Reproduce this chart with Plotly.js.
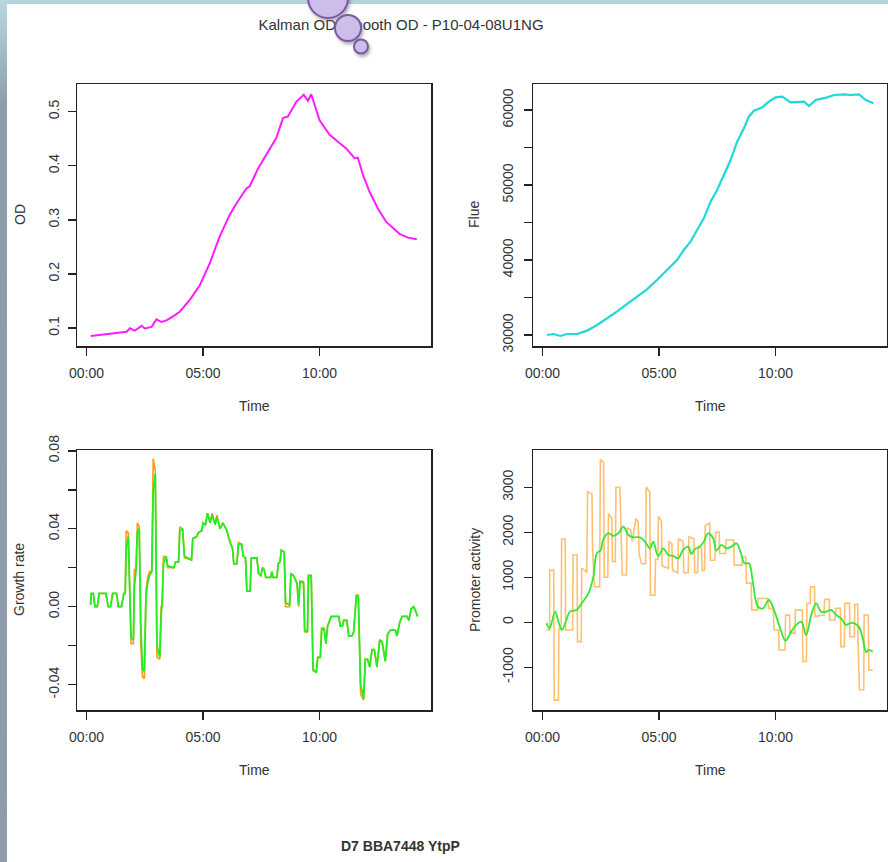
<!DOCTYPE html>
<html>
<head>
<meta charset="utf-8">
<script src="https://cdn.plot.ly/plotly-3.0.1.min.js"></script>
<style>
  html, body { margin: 0; padding: 0; background: #ffffff; }
  #wrap { position: relative; width: 888px; height: 862px; overflow: hidden; }
  #chart { position: absolute; left: 0; top: 0; width: 888px; height: 862px; }
  #deco { position: absolute; left: 0; top: 0; width: 888px; height: 862px; pointer-events: none; }
</style>
</head>
<body>
<div id="wrap">
  <div id="chart"></div>
  <svg id="deco" width="888" height="862" xmlns="http://www.w3.org/2000/svg">
    <defs>
      <linearGradient id="leftStrip" x1="0" y1="0" x2="0" y2="1">
        <stop offset="0" stop-color="#b8d7e0"/>
        <stop offset="0.04" stop-color="#a9c6d1"/>
        <stop offset="0.12" stop-color="#8c9eac"/>
        <stop offset="1" stop-color="#8e9aab"/>
      </linearGradient>
      <filter id="shadow" x="-50%" y="-50%" width="200%" height="200%">
        <feDropShadow dx="1.5" dy="2.5" stdDeviation="1.5" flood-color="#555" flood-opacity="0.45"/>
      </filter>
    </defs>
    <rect x="0" y="0" width="888" height="4" fill="#b4d3dd"/>
    <rect x="0" y="0" width="7" height="862" fill="url(#leftStrip)"/>
    <g filter="url(#shadow)" fill="#cdbde9" stroke="#7b58a6" stroke-width="2">
      <circle cx="328" cy="-2" r="20"/>
      <circle cx="348" cy="28" r="13"/>
      <circle cx="361" cy="46.5" r="7"/>
    </g>
  </svg>
</div>
<script>
// ---------- data ----------
// Time in hours since start
const odTime = [0.18,0.6,1.0,1.4,1.72,1.86,2.07,2.36,2.5,2.79,3.0,3.22,3.43,3.7,4.0,4.43,4.86,5.29,5.71,6.14,6.43,6.86,7.0,7.36,7.71,8.14,8.43,8.64,9.0,9.32,9.5,9.64,10.0,10.43,10.71,11.14,11.5,11.64,11.86,12.14,12.5,12.86,13.43,13.79,14.17];
const odValue = [0.085,0.087,0.089,0.091,0.093,0.0995,0.095,0.104,0.099,0.102,0.116,0.111,0.114,0.121,0.130,0.152,0.179,0.220,0.269,0.309,0.330,0.358,0.362,0.395,0.420,0.451,0.488,0.491,0.518,0.531,0.520,0.532,0.484,0.457,0.447,0.432,0.414,0.415,0.383,0.352,0.321,0.296,0.274,0.267,0.264];

const flTime = [0.19,0.47,0.76,1.05,1.48,1.91,2.34,2.77,3.19,3.62,4.05,4.48,4.91,5.34,5.77,6.06,6.35,6.63,6.92,7.21,7.49,7.78,8.07,8.35,8.64,8.85,9.07,9.43,9.71,10.0,10.29,10.64,10.93,11.22,11.43,11.72,12.22,12.51,12.94,13.22,13.58,13.87,14.2];
const flValue = [30000,30130,29870,30130,30130,30580,31330,32220,33110,34130,35110,36090,37330,38670,40000,41330,42440,44000,45560,47780,49330,51330,53330,55780,57560,59110,59910,60360,61110,61690,61780,61020,61110,61110,60530,61330,61690,62000,62090,62000,62090,61330,60890];

const gTime = [0.17,0.20,0.29,0.36,0.46,0.54,0.83,0.93,1.03,1.12,
  1.29,1.36,1.50,1.60,1.66,1.70,1.79,1.86,1.91,2.01,
  2.05,2.12,2.18,2.26,2.33,2.40,2.48,2.55,2.62,2.70,
  2.80,2.86,2.95,3.02,3.14,3.20,3.25,3.30,3.42,3.48,
  3.75,3.82,3.95,4.00,4.12,4.20,4.50,4.56,4.72,4.80,
  4.94,5.00,5.10,5.19,5.30,5.39,5.52,5.59,5.73,5.85,
  6.02,6.16,6.26,6.32,6.45,6.52,6.66,6.72,6.82,6.88,
  7.02,7.07,7.31,7.38,7.48,7.55,7.62,7.69,7.90,7.95,
  8.00,8.17,8.22,8.30,8.36,8.48,8.54,8.71,8.77,8.88,
  8.95,9.03,9.10,9.16,9.31,9.36,9.48,9.52,9.64,9.72,
  9.86,9.92,10.03,10.09,10.20,10.27,10.34,10.50,10.82,10.89,
  10.98,11.03,11.17,11.25,11.39,11.46,11.58,11.66,11.76,11.89,
  11.96,12.06,12.15,12.25,12.35,12.46,12.58,12.68,12.82,12.92,
  13.04,13.25,13.32,13.44,13.54,13.75,13.83,13.93,14.04,14.21];
const gRaw = [0.001,0.0068,0.0068,0,0,0.0068,0.0068,0,0,0.0068,
  0.0068,0,0,0.0068,0.0068,0.039,0.038,0.0,-0.019,-0.019,
  0.019,0.019,0.043,0.041,-0.020,-0.036,-0.037,0.008,0.015,0.018,
  0.018,0.076,0.070,-0.026,-0.027,0.0,0.0,0.026,0.025,0.020,
  0.020,0.023,0.023,0.041,0.040,0.025,0.024,0.035,0.036,0.038,
  0.039,0.043,0.042,0.048,0.043,0.048,0.042,0.047,0.040,0.043,
  0.039,0.033,0.030,0.022,0.022,0.033,0.032,0.026,0.025,0.008,
  0.008,0.025,0.025,0.017,0.016,0.020,0.019,0.015,0.015,0.018,
  0.015,0.015,0.022,0.023,0.029,0.028,0.0,0.0,0.017,0.016,
  0.014,0.012,0.0,0.013,0.013,-0.013,-0.013,0.016,0.016,-0.033,
  -0.033,-0.026,-0.026,-0.011,-0.011,-0.019,-0.010,-0.005,-0.005,-0.010,
  -0.010,-0.007,-0.007,-0.015,-0.015,-0.013,0.006,0.006,-0.045,-0.048,
  -0.027,-0.027,-0.031,-0.022,-0.022,-0.031,-0.017,-0.018,-0.028,-0.014,
  -0.012,-0.012,-0.015,-0.008,-0.005,-0.005,-0.007,-0.001,0.0,-0.005];
const gSmooth = [0.001,0.0068,0.0068,0,0,0.0068,0.0068,0,0,0.0068,
  0.0068,0,0,0.0068,0.0068,0.030,0.036,0.010,-0.016,-0.017,
  0.010,0.018,0.038,0.040,-0.010,-0.032,-0.033,0.005,0.012,0.016,
  0.018,0.060,0.068,-0.020,-0.026,-0.005,0.005,0.022,0.026,0.021,
  0.020,0.023,0.023,0.039,0.040,0.026,0.024,0.035,0.036,0.038,
  0.039,0.043,0.042,0.048,0.043,0.047,0.042,0.046,0.040,0.043,
  0.039,0.033,0.030,0.022,0.022,0.032,0.032,0.026,0.025,0.008,
  0.008,0.025,0.025,0.017,0.016,0.020,0.019,0.015,0.015,0.018,
  0.015,0.015,0.022,0.023,0.029,0.028,0.002,0.001,0.017,0.016,
  0.014,0.012,0.001,0.013,0.012,-0.012,-0.013,0.016,0.016,-0.032,
  -0.034,-0.026,-0.026,-0.011,-0.012,-0.019,-0.010,-0.005,-0.005,-0.010,
  -0.010,-0.007,-0.007,-0.015,-0.015,-0.013,0.006,0.005,-0.040,-0.047,
  -0.027,-0.027,-0.031,-0.022,-0.022,-0.031,-0.017,-0.018,-0.028,-0.014,
  -0.012,-0.012,-0.015,-0.008,-0.005,-0.005,-0.007,-0.001,0.0,-0.005];

const pTime = [0.17,0.30,0.31,0.48,0.50,0.68,0.70,0.80,0.82,0.97,
  0.99,1.29,1.31,1.48,1.50,1.66,1.68,1.83,1.90,1.93,
  2.12,2.15,2.22,2.45,2.48,2.62,2.65,2.80,2.83,2.97,
  3.00,3.12,3.15,3.32,3.35,3.42,3.60,3.63,3.78,3.85,
  4.00,4.10,4.15,4.25,4.42,4.45,4.60,4.63,4.82,4.85,
  4.95,4.97,5.10,5.13,5.40,5.42,5.55,5.58,5.80,5.83,
  6.03,6.06,6.25,6.28,6.50,6.53,6.65,6.68,6.82,6.85,
  6.95,6.98,7.17,7.20,7.40,7.43,7.58,7.60,7.85,7.88,
  8.20,8.23,8.55,8.58,8.72,8.75,8.95,8.98,9.22,9.25,
  9.67,9.70,9.90,9.93,10.13,10.15,10.40,10.43,10.60,10.62,
  10.83,10.85,11.15,11.17,11.32,11.34,11.48,11.50,11.67,11.69,
  11.90,12.08,12.10,12.30,12.32,12.55,12.58,12.78,12.80,12.95,
  12.97,13.17,13.19,13.38,13.40,13.52,13.54,13.60,13.78,13.80,
  13.98,14.00,14.17];
const pRaw = [-170,-170,1160,1160,-1730,-1730,-150,-150,1850,1850,
  -170,-170,1500,1500,-430,-430,1200,1150,1100,2900,
  2850,1600,790,790,3620,3550,1000,1000,2420,2300,
  1350,1350,3000,3000,2400,1050,1050,2100,2050,1800,
  2300,2250,1500,1300,1300,3000,2900,600,600,1400,
  1400,2350,2250,1250,1200,1800,1750,1150,1100,1850,
  1800,1100,1100,1900,1850,1100,1100,1700,1650,1150,
  1150,2150,2200,1380,1380,2000,2000,1530,1530,1830,
  1830,1270,1270,1450,1450,870,870,270,270,530,
  530,310,310,-170,-170,-615,-615,160,160,-240,
  -240,270,270,-870,-870,420,420,790,790,130,
  150,160,510,510,50,50,310,310,-540,-540,
  420,420,-320,-320,400,400,-500,-1500,-1500,160,
  160,-1060,-1060];

const psTime = [0.17,0.30,0.54,0.68,0.83,1.0,1.18,1.46,1.68,1.97,2.18,2.33,2.5,2.6,2.82,3.04,3.25,3.47,3.68,3.9,4.18,4.39,4.61,4.75,4.96,5.18,5.39,5.61,5.82,6.03,6.25,6.39,6.53,6.75,6.92,7.1,7.32,7.46,7.67,7.89,8.1,8.32,8.49,8.67,8.86,9.03,9.24,9.46,9.71,9.96,10.17,10.43,10.67,10.88,11.1,11.31,11.53,11.74,11.95,12.17,12.38,12.6,12.81,13.02,13.17,13.38,13.57,13.74,13.88,13.99,14.17];
const psValue = [-22,-133,237,15,-170,15,237,274,422,644,1015,1533,1607,1830,1978,1919,1978,2126,1941,1889,1889,1793,1644,1793,1474,1644,1496,1474,1422,1607,1681,1519,1622,1681,1793,1978,1867,1593,1719,1644,1681,1756,1570,1311,1311,867,348,311,496,237,-96,-407,-207,-59,15,-281,163,422,237,237,274,163,89,-59,-22,-22,-96,-356,-667,-615,-652];

const timeTickVals = [0, 5, 10];
const timeTickText = ['00:00', '05:00', '10:00'];
const odTickVals = [0.1, 0.2, 0.3, 0.4, 0.5];
const odTickText = ['0.1', '0.2', '0.3', '0.4', '0.5'];
const flTickVals = [30000, 35000, 40000, 45000, 50000, 55000, 60000];
const flTickText = ['30000', '', '40000', '', '50000', '', '60000'];
const gTickVals = [-0.04, -0.02, 0, 0.02, 0.04, 0.06, 0.08];
const gTickText = ['-0.04', '', '0.00', '', '0.04', '', '0.08'];
const pTickVals = [-1000, 0, 1000, 2000, 3000];
const pTickText = ['-1000', '0', '1000', '2000', '3000'];

const mainTitle = 'Kalman OD/Smooth OD - P10-04-08U1NG';
const subTitle = 'D7 BBA7448 YtpP';

// ---------- layout ----------
const W = 888, H = 862;
const FONT = 'Liberation Sans, Arial, Helvetica, sans-serif';
const px = v => v / W;
const py = v => 1 - v / H;

const base = {
  showline: true, mirror: true, linecolor: '#222', linewidth: 1.5,
  ticks: 'outside', ticklen: 8, tickwidth: 1.5, tickcolor: '#222',
  showgrid: false, zeroline: false, fixedrange: true,
  tickfont: { family: FONT, size: 14, color: '#333' },
  ticklabelstandoff: 6
};
function xa(dom, anchor) {
  return Object.assign({}, base, { domain: dom, anchor: anchor, range: [-0.41, 14.78],
    tickmode: 'array', tickvals: timeTickVals, ticktext: timeTickText });
}
function ya(dom, anchor, range, vals, text, standoff) {
  return Object.assign({}, base, { domain: dom, anchor: anchor, range: range,
    tickmode: 'array', tickvals: vals, ticktext: text, tickangle: -90,
    ticklabelstandoff: standoff });
}
const xL = [px(77), px(431)], xR = [px(533), px(887)];
const yT = [py(346), py(84)], yB = [py(710), py(450)];

const traces = [
  { x: odTime, y: odValue, xaxis: 'x', yaxis: 'y', type: 'scatter', mode: 'lines',
    line: { color: '#ff1cff', width: 2 }, name: 'OD' },
  { x: flTime, y: flValue, xaxis: 'x2', yaxis: 'y2', type: 'scatter', mode: 'lines',
    line: { color: '#1fd8d8', width: 2.2 }, name: 'Flue' },
  { x: gTime, y: gRaw, xaxis: 'x3', yaxis: 'y3', type: 'scatter', mode: 'lines',
    line: { color: '#ff9a1a', width: 1.6 }, name: 'Growth rate (Kalman)' },
  { x: gTime, y: gSmooth, xaxis: 'x3', yaxis: 'y3', type: 'scatter', mode: 'lines',
    line: { color: '#22ee22', width: 1.8 }, name: 'Growth rate (smooth)' },
  { x: pTime, y: pRaw, xaxis: 'x4', yaxis: 'y4', type: 'scatter', mode: 'lines',
    line: { color: 'rgba(255,150,20,0.6)', width: 1.6 }, name: 'Promoter activity (Kalman)' },
  { x: psTime, y: psValue, xaxis: 'x4', yaxis: 'y4', type: 'scatter', mode: 'lines',
    line: { color: '#33e833', width: 1.8, shape: 'spline', smoothing: 1 }, name: 'Promoter activity (smooth)' }
];

const ann = (text, x, y, angle, opts) => Object.assign({
  text: text, x: x, y: y, xref: 'paper', yref: 'paper', showarrow: false,
  xanchor: 'center', yanchor: 'middle', textangle: angle || 0,
  font: { family: FONT, size: 14, color: '#333' }
}, opts || {});

const layout = {
  width: W, height: H,
  margin: { l: 0, r: 0, t: 0, b: 0 },
  paper_bgcolor: '#ffffff', plot_bgcolor: '#ffffff',
  showlegend: false,
  font: { family: FONT, size: 14, color: '#333' },
  title: { text: mainTitle, x: px(401), y: py(25), xref: 'paper', yref: 'container',
    xanchor: 'center', yanchor: 'middle', font: { family: FONT, size: 15, color: '#333' } },
  xaxis: xa(xL, 'y'),
  yaxis: ya(yT, 'x', [0.0667, 0.551], odTickVals, odTickText, 3),
  xaxis2: xa(xR, 'y2'),
  yaxis2: ya(yT, 'x2', [28533, 63467], flTickVals, flTickText, 5),
  xaxis3: xa(xL, 'y3'),
  yaxis3: ya(yB, 'x3', [-0.053, 0.0804], gTickVals, gTickText, 3),
  xaxis4: xa(xR, 'y4'),
  yaxis4: ya(yB, 'x4', [-1949, 3829], pTickVals, pTickText, 5),
  annotations: [
    ann('Time', px(254), py(406)),
    ann('Time', px(710), py(406)),
    ann('Time', px(254), py(770)),
    ann('Time', px(710), py(770)),
    ann('OD', px(20), py(215), -90),
    ann('Flue', px(474), py(215), -90),
    ann('Growth rate', px(19), py(580), -90),
    ann('Promoter activity', px(475), py(580), -90),
    ann('<b>' + subTitle + '</b>', px(400), py(846), 0)
  ]
};

Plotly.newPlot('chart', traces, layout, { displayModeBar: false, staticPlot: true });
</script>
</body>
</html>
